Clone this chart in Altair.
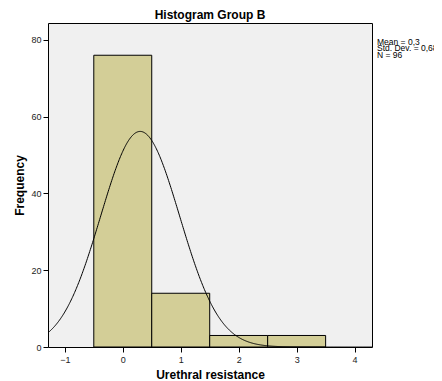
import altair as alt
import pandas as pd

bin_start = [-0.5, 0.5, 1.5, 2.5]
bin_end = [0.5, 1.5, 2.5, 3.5]
counts = [76, 14, 3, 3]

mean_val = 0.3
sd_val = 0.682
n_val = 96
bin_width = 1.0

stats_lines = ["Mean = 0,3", "Std. Dev. = 0,682", "N = 96"]

x_ticks = [-1, 0, 1, 2, 3, 4]
y_ticks = [0, 20, 40, 60, 80]

xdom = [-1.29, 4.30]
ydom = [0, 84.4]

bars_df = pd.DataFrame({"x0": bin_start, "x1": bin_end, "count": counts})
stats_df = pd.DataFrame({"line": stats_lines, "row": list(range(len(stats_lines)))})

xscale = alt.Scale(domain=xdom, nice=False, zero=False)
yscale = alt.Scale(domain=ydom, nice=False)

xaxis = alt.Axis(values=x_ticks, format="d", title="Urethral resistance", grid=False, domain=False,
                 tickColor="black", tickSize=5, labelFontSize=9, labelColor="#222222",
                 labelFont="Liberation Sans", titleFont="Liberation Sans", titleFontSize=12,
                 titleFontWeight="bold", titleColor="black", titlePadding=5, labelPadding=3)
yaxis = alt.Axis(values=y_ticks, title="Frequency", grid=False, domain=False,
                 tickColor="black", tickSize=5, labelFontSize=9, labelColor="#222222",
                 labelFont="Liberation Sans", titleFont="Liberation Sans", titleFontSize=12,
                 titleFontWeight="bold", titleColor="black", titlePadding=4, labelPadding=2)

bars = alt.Chart(bars_df).mark_rect(fill="#D3CE97", stroke="black", strokeWidth=1).encode(
    x=alt.X("x0:Q", scale=xscale, axis=xaxis),
    x2="x1:Q",
    y=alt.Y("count:Q", scale=yscale, axis=yaxis),
    y2=alt.datum(0),
)

curve = alt.Chart(alt.sequence(xdom[0], xdom[1] + 0.001, 0.01, as_="x")).transform_calculate(
    y=f"{n_val}*{bin_width}/({sd_val}*sqrt(2*PI))*exp(-0.5*pow((datum.x-{mean_val})/{sd_val},2))"
).mark_line(color="black", strokeWidth=1, clip=True).encode(
    x=alt.X("x:Q", scale=xscale),
    y=alt.Y("y:Q", scale=yscale, axis=None),
)

stats = alt.Chart(stats_df).mark_text(align="left", baseline="middle", fontSize=8.5,
                                      font="Liberation Sans", color="black", clip=False).encode(
    x=alt.value(329),
    y=alt.Y("row:Q", scale=alt.Scale(domain=[0, 1], range=[18.5, 25]), axis=None),
    text="line:N",
)

chart = alt.layer(bars, curve, stats).resolve_scale(y="independent").properties(
    width=324,
    height=324,
    title=alt.TitleParams("Histogram Group B", font="Liberation Sans", fontSize=12,
                          fontWeight="bold", color="black", offset=1),
    autosize=alt.AutoSizeParams(type="none"),
    padding={"left": 40, "top": 15, "right": 62, "bottom": 34},
).configure(background="white").configure_view(fill="#F0F0F0", stroke="black", strokeWidth=1)

chart.save("out.html", embed_options={"renderer": "svg", "actions": False})
